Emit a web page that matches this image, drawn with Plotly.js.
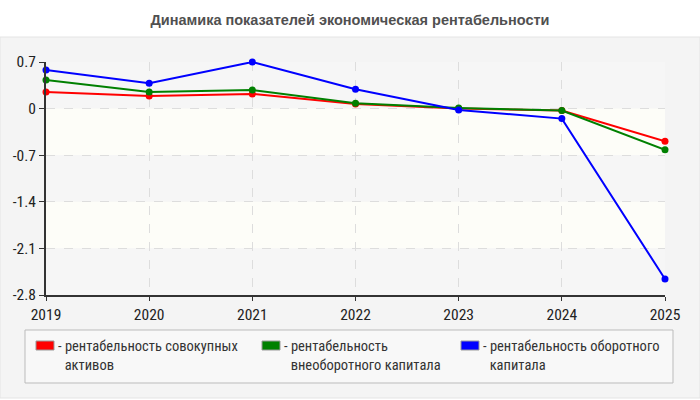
<!DOCTYPE html>
<html>
<head>
<meta charset="utf-8">
<script src="https://cdn.plot.ly/plotly-3.0.1.min.js"></script>
<style>
  html, body { margin: 0; padding: 0; background: #fff; }
  #chart { width: 700px; height: 400px; }
</style>
</head>
<body>
<div id="chart"></div>
<script>
const years = [2019, 2020, 2021, 2022, 2023, 2024, 2025];
const yTicks = [0.7, 0, -0.7, -1.4, -2.1, -2.8];

const seriesNames = [
    ["рентабельность совокупных", "активов"],
    ["рентабельность", "внеоборотного капитала"],
    ["рентабельность оборотного", "капитала"],
];
const seriesColors = ["#ff0000", "#008000", "#0000ff"];

const totalAssets = [0.25, 0.19, 0.22, 0.07, 0.00, -0.03, -0.49];
const fixedCapital = [0.43, 0.25, 0.28, 0.08, 0.01, -0.03, -0.62];
const workingCapital = [0.58, 0.38, 0.70, 0.29, -0.02, -0.15, -2.56];

const seriesValues = [totalAssets, fixedCapital, workingCapital];

const narrow = '"Liberation Sans Narrow", "Roboto Condensed", Roboto, sans-serif';

// pixel helpers for the paper-space decorations (plot area is 46..665 x 62..295)
const px = (X) => (X - 46) / 619;
const py = (Y) => (295 - Y) / 233;

let data = seriesValues.map(function (vals, i) {
    return {
        name: seriesNames[i].join(' '),
        x: years,
        y: vals,
        type: 'scatter',
        mode: 'lines+markers',
        line: {color: seriesColors[i], width: 2},
        marker: {color: seriesColors[i], size: 7},
        showlegend: false,
        cliponaxis: false,
    };
});

let shapes = [];
// grey panel behind the chart
shapes.push({
    type: 'rect', xref: 'paper', yref: 'paper', layer: 'below',
    x0: px(0), x1: px(700), y0: py(398), y1: py(37),
    fillcolor: '#f4f4f4', line: {color: '#e4e4e4', width: 1},
});
// alternating bands in the plot area
for (let i = 0; i < yTicks.length - 1; ++i) {
    shapes.push({
        type: 'rect', xref: 'paper', yref: 'y', layer: 'below',
        x0: 0, x1: 1, y0: yTicks[i + 1], y1: yTicks[i],
        fillcolor: i % 2 === 0 ? '#f6f6f6' : '#fdfdf8',
        line: {width: 0},
    });
}
// legend box
shapes.push({
    type: 'rect', xref: 'paper', yref: 'paper',
    x0: px(25), x1: px(673), y0: py(383), y1: py(330),
    fillcolor: '#f8f8f8', line: {color: '#bbbbbb', width: 1},
});

let annotations = [];
const legendX = [36, 262, 461];
legendX.forEach(function (X, i) {
    shapes.push({
        type: 'rect', xref: 'paper', yref: 'paper',
        x0: px(X), x1: px(X + 18), y0: py(350), y1: py(341),
        fillcolor: seriesColors[i], line: {color: '#999999', width: 1},
    });
    annotations.push({
        xref: 'paper', yref: 'paper', x: px(X + 20), y: py(336),
        xanchor: 'left', yanchor: 'top', align: 'left', showarrow: false,
        text: '- ' + seriesNames[i][0] + '<br>\u00a0\u00a0' + seriesNames[i][1],
        font: {family: narrow, size: 14.5, color: '#333333'},
    });
});

let layout = {
    width: 700,
    height: 400,
    margin: {l: 46, r: 35, t: 62, b: 105},
    paper_bgcolor: '#ffffff',
    plot_bgcolor: 'rgba(0,0,0,0)',
    title: {
        text: 'Динамика показателей экономическая рентабельности',
        font: {family: '"Liberation Sans", Arial, sans-serif', size: 14.5, color: '#505050', weight: 'bold'},
        x: 0.5, xref: 'container', xanchor: 'center', y: 0.95, yanchor: 'middle',
    },
    xaxis: {
        range: [2019, 2025],
        tickvals: years,
        ticktext: years.map(String),
        showline: true, linecolor: '#333333', linewidth: 2,
        ticks: 'outside', ticklen: 4, tickcolor: '#333333',
        showgrid: true, gridcolor: '#dddddd', griddash: 'dash',
        zeroline: false,
        tickfont: {family: narrow, size: 15.5, color: '#222222'},
    },
    yaxis: {
        range: [-2.8, 0.7],
        tickvals: yTicks,
        ticktext: yTicks.map(String),
        showline: true, linecolor: '#333333', linewidth: 2,
        ticks: 'outside', ticklen: 5, tickcolor: '#333333',
        showgrid: true, gridcolor: '#dddddd', griddash: 'dash',
        zeroline: false,
        tickfont: {family: narrow, size: 15.5, color: '#222222'},
    },
    shapes: shapes,
    annotations: annotations,
};

Plotly.newPlot('chart', data, layout, {displayModeBar: false, staticPlot: true});
</script>
</body>
</html>
